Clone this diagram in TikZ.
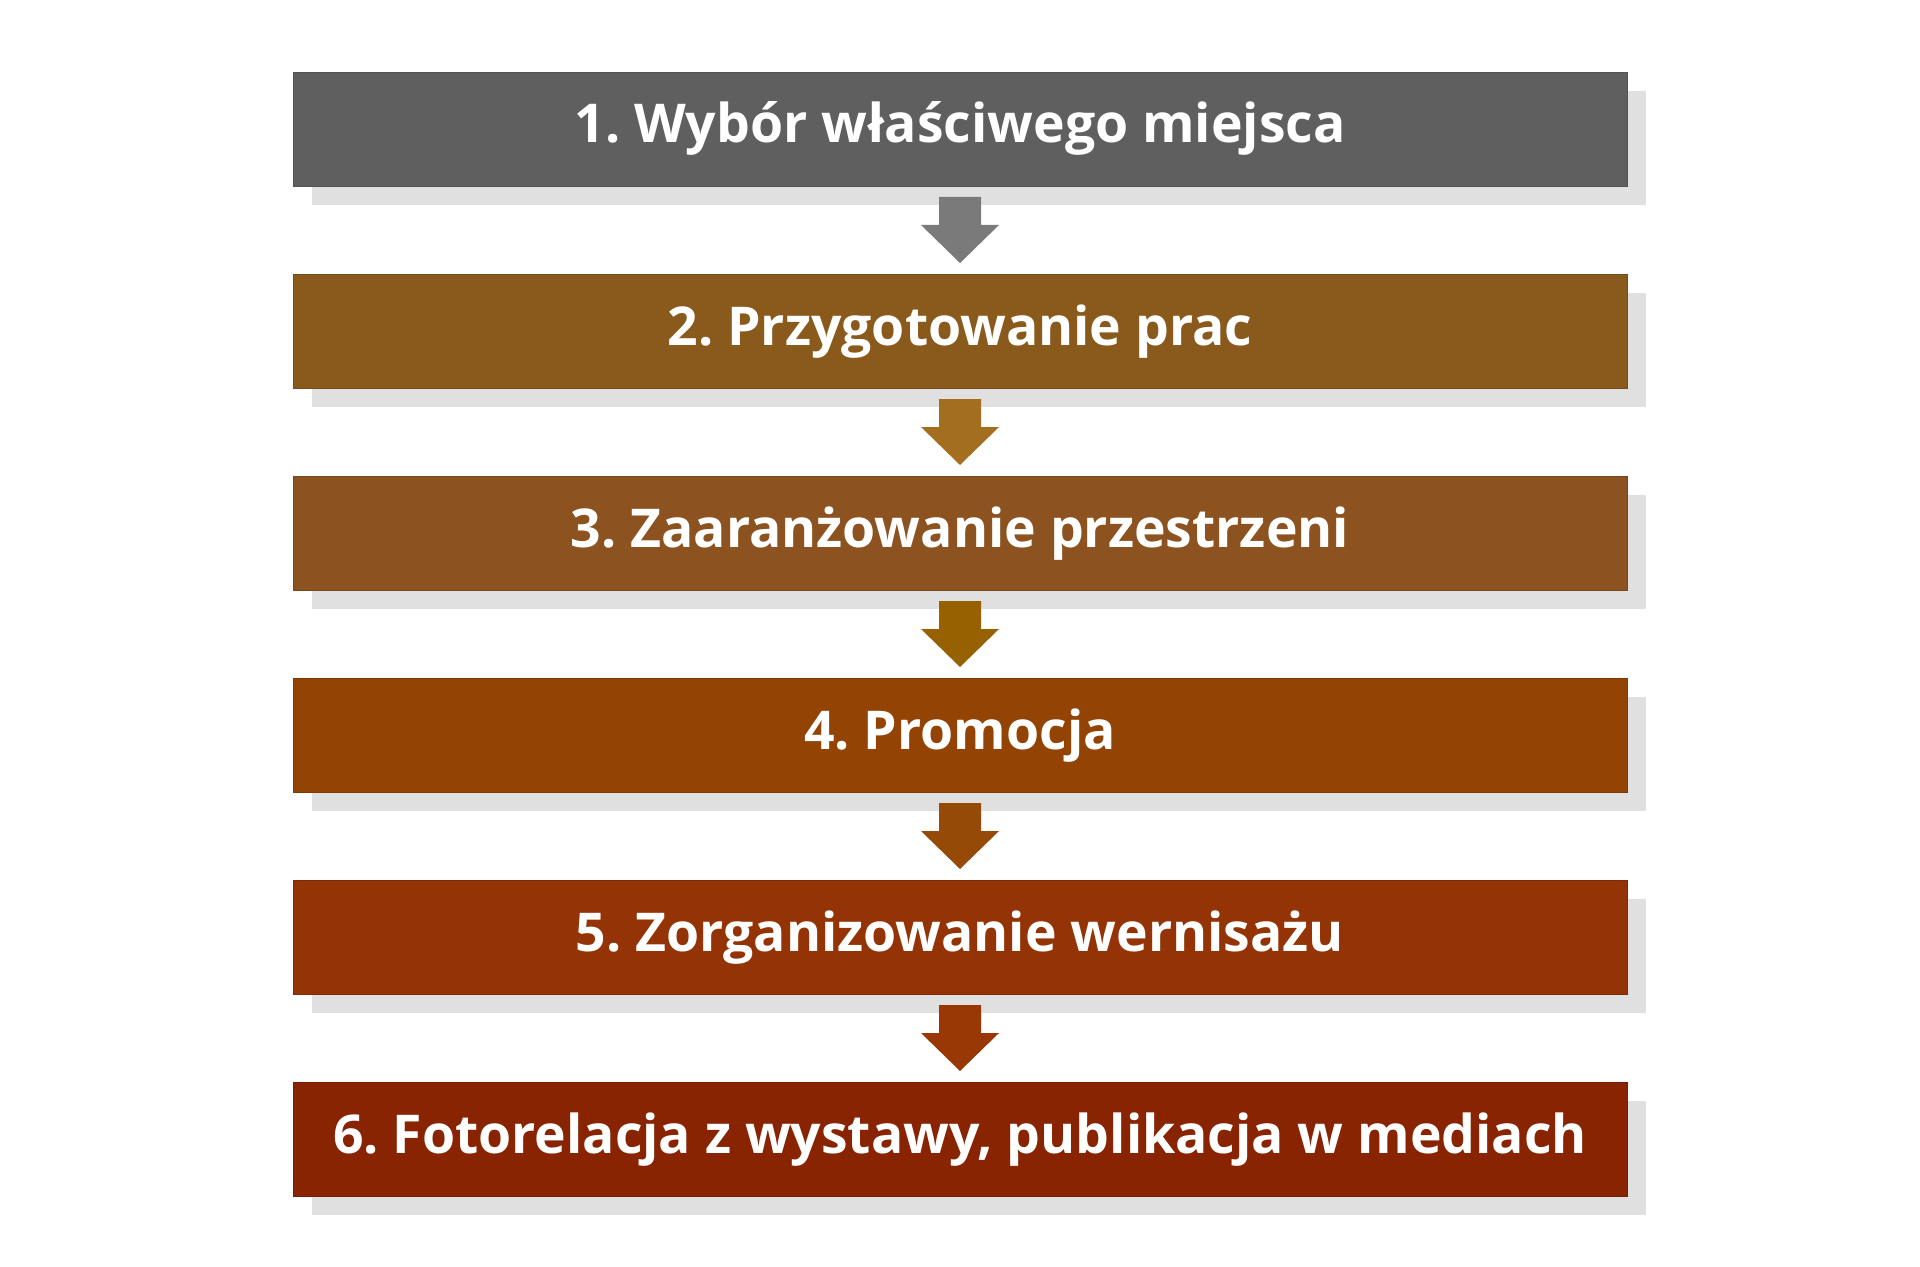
\documentclass[tikz,border=0pt]{standalone}
\usepackage{fontspec}
\setmainfont{Open Sans}
\frenchspacing
\usetikzlibrary{calc,positioning,shadows}
\definecolor{stageone}{HTML}{5F5F5F}
\definecolor{stagetwo}{HTML}{8A5A1C}
\definecolor{stagethree}{HTML}{8C521F}
\definecolor{stagefour}{HTML}{934303}
\definecolor{stagefive}{HTML}{943305}
\definecolor{stagesix}{HTML}{882402}
\definecolor{arrowone}{HTML}{7A7A7A}
\definecolor{arrowtwo}{HTML}{A36E20}
\definecolor{arrowthree}{HTML}{976000}
\definecolor{arrowfour}{HTML}{954A08}
\definecolor{arrowfive}{HTML}{993805}
\definecolor{shadowgray}{HTML}{E0E0E0}
\tikzset{%
	stage/.style  = {rectangle, minimum width=667pt, minimum height=57pt, inner sep=0pt, outer sep=0pt, line width=0.4pt,
		text=white, font=\fontsize{26.75}{30}\selectfont\bfseries, text height=20pt, text depth=6pt,
		drop shadow={shadow xshift=9.5pt, shadow yshift=-9.5pt, fill=shadowgray, opacity=1}}, % Box
	stagefill/.style = {stage, fill=#1, draw=#1!85!black},
	flowarrow/.style = {fill=#1}, % Arrow between boxes
}

\begin{document}
\begin{tikzpicture}[node distance = 44pt]
	\useasboundingbox (0,0) rectangle (960pt,-633.5pt);
	\node[stagefill=stageone] (s1) at (480pt,-64.5pt) {1. Wybór właściwego miejsca};
	\node[stagefill=stagetwo,below=of s1] (s2) {2. Przygotowanie prac};
	\node[stagefill=stagethree,below=of s2] (s3) {3. Zaaranżowanie przestrzeni};
	\node[stagefill=stagefour,below=of s3] (s4) {4. Promocja};
	\node[stagefill=stagefive,below=of s4] (s5) {5. Zorganizowanie wernisażu};
	\node[stagefill=stagesix,below=of s5] (s6) {6. Fotorelacja z wystawy, publikacja w mediach};

	\fill[flowarrow=arrowone] ($(s1.south)!0.5!(s2.north)$) ++(-10.5pt,16.5pt) -- ++(21pt,0) -- ++(0,-14pt) -- ++(9pt,0) -- ++(-19.5pt,-19pt) -- ++(-19.5pt,19pt) -- ++(9pt,0) -- cycle;
	\fill[flowarrow=arrowtwo] ($(s2.south)!0.5!(s3.north)$) ++(-10.5pt,16.5pt) -- ++(21pt,0) -- ++(0,-14pt) -- ++(9pt,0) -- ++(-19.5pt,-19pt) -- ++(-19.5pt,19pt) -- ++(9pt,0) -- cycle;
	\fill[flowarrow=arrowthree] ($(s3.south)!0.5!(s4.north)$) ++(-10.5pt,16.5pt) -- ++(21pt,0) -- ++(0,-14pt) -- ++(9pt,0) -- ++(-19.5pt,-19pt) -- ++(-19.5pt,19pt) -- ++(9pt,0) -- cycle;
	\fill[flowarrow=arrowfour] ($(s4.south)!0.5!(s5.north)$) ++(-10.5pt,16.5pt) -- ++(21pt,0) -- ++(0,-14pt) -- ++(9pt,0) -- ++(-19.5pt,-19pt) -- ++(-19.5pt,19pt) -- ++(9pt,0) -- cycle;
	\fill[flowarrow=arrowfive] ($(s5.south)!0.5!(s6.north)$) ++(-10.5pt,16.5pt) -- ++(21pt,0) -- ++(0,-14pt) -- ++(9pt,0) -- ++(-19.5pt,-19pt) -- ++(-19.5pt,19pt) -- ++(9pt,0) -- cycle;
\end{tikzpicture}
\end{document}
